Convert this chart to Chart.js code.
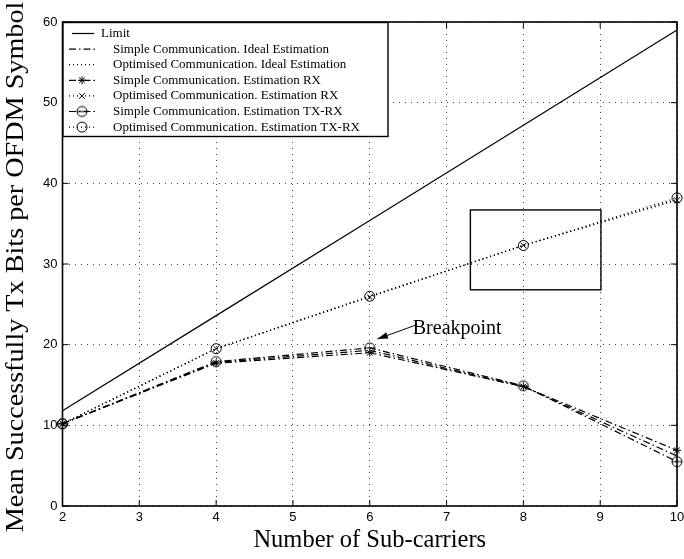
<!DOCTYPE html>
<html>
<head>
<meta charset="utf-8">
<script src="https://cdn.jsdelivr.net/npm/chart.js@4/dist/chart.umd.min.js"></script>
<style>
  html, body { margin: 0; padding: 0; background: #ffffff; }
  #wrap { width: 684px; height: 559px; }
</style>
</head>
<body>
<div id="wrap"><canvas id="c" width="684" height="559"></canvas></div>
<script>
// Number of sub-carriers on the x axis
const subcarriers = [2, 4, 6, 8, 10];

// Mean successfully transmitted bits per OFDM symbol
const limit          = [11.8, 23.6, 35.4, 47.2, 59.0];
const simpleIdeal    = [10.2, 17.8, 19.3, 14.8, 6.2];
const optimisedIdeal = [10.2, 19.5, 26.0, 32.3, 38.0];
const simpleRx       = [10.2, 17.7, 19.0, 14.8, 6.9];
const optimisedRx    = [10.2, 19.5, 25.9, 32.3, 37.9];
const simpleTxRx     = [10.2, 17.9, 19.6, 14.9, 5.5];
const optimisedTxRx  = [10.2, 19.5, 26.0, 32.3, 38.2];

const xTicks = [2, 3, 4, 5, 6, 7, 8, 9, 10];
const yTicks = [0, 10, 20, 30, 40, 50, 60];

const seriesLabels = [
  'Limit',
  'Simple Communication. Ideal Estimation',
  'Optimised Communication. Ideal Estimation',
  'Simple Communication. Estimation RX',
  'Optimised Communication. Estimation RX',
  'Simple Communication. Estimation TX-RX',
  'Optimised Communication. Estimation TX-RX'
];

// Highlight box (data coordinates) and the breakpoint note
const zoomBoxCorners = [[7.31, 26.8], [9.01, 36.7]];
const breakpointText = 'Breakpoint';
const breakpointTextAt = [6.56, 22.0];
const breakpointArrowFrom = [6.62, 22.5];
const breakpointArrowTo = [6.1, 20.7];

const SERIF = '"Liberation Serif", "Times New Roman", serif';
const SANS = '"Liberation Sans", Arial, sans-serif';

const DASHDOT = [7, 3, 1.5, 3];
const DOTTED = [1, 3];
const GRID_DOTS = [1, 5];

// circle with a horizontal bar, used as a marker
function thetaMarker(r) {
  const s = Math.ceil(r * 2 + 4);
  const cv = document.createElement('canvas');
  cv.width = s; cv.height = s;
  const g = cv.getContext('2d');
  g.strokeStyle = '#000'; g.lineWidth = 1;
  g.beginPath(); g.arc(s / 2, s / 2, r, 0, Math.PI * 2); g.stroke();
  g.beginPath(); g.moveTo(s / 2 - r, s / 2); g.lineTo(s / 2 + r, s / 2); g.stroke();
  return cv;
}
const theta = thetaMarker(5);

function pairs(ys) { return subcarriers.map((x, i) => ({ x: x, y: ys[i] })); }

const styles = [
  { values: limit,          dash: [],      point: false },
  { values: simpleIdeal,    dash: DASHDOT, point: false },
  { values: optimisedIdeal, dash: DOTTED,  point: false },
  { values: simpleRx,       dash: DASHDOT, point: 'star',     r: 4 },
  { values: optimisedRx,    dash: DOTTED,  point: 'crossRot', r: 4 },
  { values: simpleTxRx,     dash: DASHDOT, point: theta,      r: 5 },
  { values: optimisedTxRx,  dash: DOTTED,  point: 'circle',   r: 5 }
];

const datasets = styles.map((s, i) => ({
  label: seriesLabels[i],
  data: pairs(s.values),
  borderColor: '#000',
  backgroundColor: 'rgba(0,0,0,0)',
  borderWidth: 1.2,
  borderDash: s.dash,
  pointStyle: s.point || 'circle',
  pointRadius: s.point ? s.r : 0,
  pointBorderColor: '#000',
  pointBorderWidth: 1,
  pointBackgroundColor: 'rgba(0,0,0,0)',
  tension: 0,
  clip: false
}));

function drawMarker(ctx, style, x, y, r) {
  ctx.save();
  ctx.setLineDash([]);
  ctx.strokeStyle = '#000'; ctx.lineWidth = 1;
  if (style === 'circle') {
    ctx.beginPath(); ctx.arc(x, y, r, 0, Math.PI * 2); ctx.stroke();
  } else if (style === 'crossRot' || style === 'star') {
    const d = r * Math.SQRT1_2;
    ctx.beginPath();
    ctx.moveTo(x - d, y - d); ctx.lineTo(x + d, y + d);
    ctx.moveTo(x - d, y + d); ctx.lineTo(x + d, y - d);
    if (style === 'star') { ctx.moveTo(x - r, y); ctx.lineTo(x + r, y); ctx.moveTo(x, y - r); ctx.lineTo(x, y + r); }
    ctx.stroke();
  } else if (style && style.getContext) {
    ctx.drawImage(style, x - style.width / 2, y - style.height / 2);
  }
  ctx.restore();
}

const decorations = {
  id: 'decorations',
  beforeDatasetsDraw(chart) {
    // highlight box sits under the curves
    const { ctx, scales: { x, y } } = chart;
    const x0 = x.getPixelForValue(zoomBoxCorners[0][0]);
    const y0 = y.getPixelForValue(zoomBoxCorners[0][1]);
    const x1 = x.getPixelForValue(zoomBoxCorners[1][0]);
    const y1 = y.getPixelForValue(zoomBoxCorners[1][1]);
    ctx.save();
    ctx.strokeStyle = '#000'; ctx.lineWidth = 1.4;
    ctx.strokeRect(Math.min(x0, x1), Math.min(y0, y1), Math.abs(x1 - x0), Math.abs(y1 - y0));
    ctx.restore();
  },
  afterDatasetsDraw(chart) {
    const { ctx, chartArea: a, scales: { x, y } } = chart;
    ctx.save();

    // axes frame with inward ticks on every side
    ctx.strokeStyle = '#000'; ctx.lineWidth = 1.6; ctx.setLineDash([]);
    ctx.strokeRect(a.left, a.top, a.right - a.left, a.bottom - a.top);
    ctx.lineWidth = 1;
    ctx.beginPath();
    xTicks.forEach(v => {
      const px = x.getPixelForValue(v);
      ctx.moveTo(px, a.bottom); ctx.lineTo(px, a.bottom - 6);
      ctx.moveTo(px, a.top); ctx.lineTo(px, a.top + 6);
    });
    yTicks.forEach(v => {
      const py = y.getPixelForValue(v);
      ctx.moveTo(a.left, py); ctx.lineTo(a.left + 6, py);
      ctx.moveTo(a.right, py); ctx.lineTo(a.right - 6, py);
    });
    ctx.stroke();

    // breakpoint note
    const tx = x.getPixelForValue(breakpointArrowFrom[0]);
    const ty = y.getPixelForValue(breakpointArrowFrom[1]);
    const hx = x.getPixelForValue(breakpointArrowTo[0]);
    const hy = y.getPixelForValue(breakpointArrowTo[1]);
    ctx.beginPath(); ctx.moveTo(tx, ty); ctx.lineTo(hx, hy); ctx.stroke();
    const ang = Math.atan2(hy - ty, hx - tx);
    ctx.beginPath();
    ctx.moveTo(hx, hy);
    ctx.lineTo(hx - 11 * Math.cos(ang - 0.3), hy - 11 * Math.sin(ang - 0.3));
    ctx.lineTo(hx - 11 * Math.cos(ang + 0.3), hy - 11 * Math.sin(ang + 0.3));
    ctx.closePath(); ctx.fillStyle = '#000'; ctx.fill();
    ctx.font = '20px ' + SERIF;
    ctx.textAlign = 'left'; ctx.textBaseline = 'middle';
    ctx.fillText(breakpointText, x.getPixelForValue(breakpointTextAt[0]), y.getPixelForValue(breakpointTextAt[1]));

    // legend box in the upper-left corner
    const lx = a.left + 0.5, ly = a.top + 0.5, lw = 325, lh = 114;
    ctx.fillStyle = '#fff';
    ctx.fillRect(lx, ly, lw, lh);
    ctx.lineWidth = 1.4; ctx.strokeStyle = '#000';
    ctx.strokeRect(lx, ly, lw, lh);
    ctx.font = '13px ' + SERIF;
    ctx.fillStyle = '#000';
    ctx.textBaseline = 'middle';
    styles.forEach((s, i) => {
      const ry = ly + 11 + i * 15.6;
      ctx.lineWidth = 1.2;
      ctx.setLineDash(s.dash);
      ctx.beginPath();
      if (i === 0) { ctx.moveTo(lx + 9, ry); ctx.lineTo(lx + 31, ry); }
      else { ctx.moveTo(lx + 6, ry); ctx.lineTo(lx + 32, ry); }
      ctx.stroke();
      ctx.setLineDash([]);
      if (s.point) drawMarker(ctx, s.point, lx + 19, ry, s.r);
      ctx.fillText(seriesLabels[i], lx + (i === 0 ? 38 : 50), ry);
    });

    // axis titles
    ctx.font = '24.5px ' + SERIF;
    ctx.textAlign = 'center'; ctx.textBaseline = 'middle';
    ctx.fillText('Number of Sub-carriers', (a.left + a.right) / 2, 541);
    ctx.save();
    ctx.translate(17, (a.top + a.bottom) / 2 + 3);
    ctx.rotate(-Math.PI / 2);
    ctx.scale(1.15, 1);
    ctx.fillText('Mean Successfully Tx Bits per OFDM Symbol', 0, 0);
    ctx.restore();

    ctx.restore();
  }
};

new Chart(document.getElementById('c'), {
  type: 'line',
  data: { datasets: datasets },
  options: {
    responsive: false,
    animation: false,
    layout: { padding: { left: 0, top: 22, right: 7, bottom: 0 } },
    plugins: { legend: { display: false }, tooltip: { enabled: false } },
    scales: {
      x: {
        type: 'linear', min: 2, max: 10,
        afterFit: s => { s.height = 53; s.paddingLeft = 0; s.paddingRight = 0; },
        afterBuildTicks: s => { s.ticks = xTicks.map(v => ({ value: v })); },
        ticks: { color: '#000', font: { family: SANS, size: 13 }, padding: 4, maxRotation: 0 },
        grid: { color: '#444', lineWidth: 1, drawTicks: false },
        border: { display: false, dash: GRID_DOTS }
      },
      y: {
        type: 'linear', min: 0, max: 60,
        afterFit: s => { s.width = 62.5; s.paddingTop = 0; s.paddingBottom = 0; },
        afterBuildTicks: s => { s.ticks = yTicks.map(v => ({ value: v })); },
        ticks: { color: '#000', font: { family: SANS, size: 13 }, padding: 5 },
        grid: { color: '#444', lineWidth: 1, drawTicks: false },
        border: { display: false, dash: GRID_DOTS }
      }
    }
  },
  plugins: [decorations]
});
</script>
</body>
</html>
